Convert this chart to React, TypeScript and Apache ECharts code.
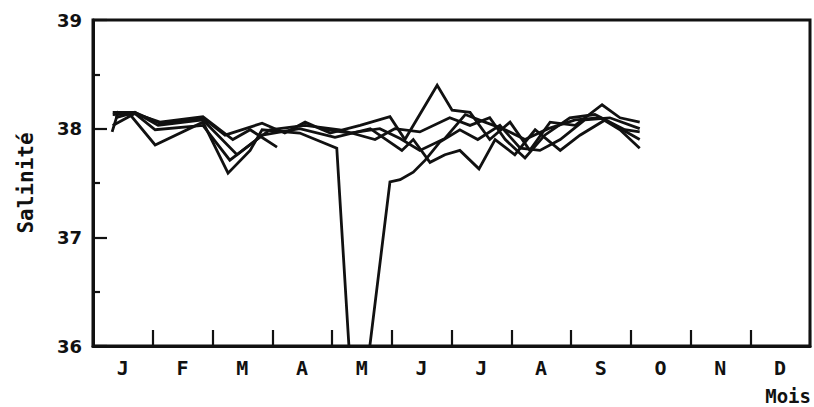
import React, { useEffect, useRef } from "react";
import * as echarts from "echarts";

const months = ["J", "F", "M", "A", "M", "J", "J", "A", "S", "O", "N", "D"];
const yMin = 36;
const yMax = 39;

// [month position (0 = start of January), salinity]
const station1: (number | null)[][] = [
  [0.33, 38.15], [0.7, 38.15], [1.12, 38.05], [1.84, 38.1], [2.21, 37.94], [2.83, 38.05],
  [3.21, 37.96], [3.55, 38.06], [3.97, 37.96], [4.47, 38.03], [4.97, 38.11], [5.22, 37.9],
  [5.76, 38.4], [6.01, 38.17], [6.31, 38.15], [6.64, 37.9], [6.98, 38.06], [7.31, 37.8],
  [7.65, 38.06], [8.07, 38.03], [8.52, 38.22], [8.82, 38.1], [9.15, 38.06],
];
const station2: (number | null)[][] = [
  [0.32, 37.97], [0.42, 38.15], [0.62, 38.13], [1.04, 37.85], [1.84, 38.06], [2.26, 37.59],
  [2.63, 37.8], [2.83, 37.99], [3.46, 37.96], [4.08, 37.82], [4.3, 35.85], [4.6, 35.85],
  [4.97, 37.51], [5.14, 37.53], [5.36, 37.6], [5.56, 37.71], [5.81, 37.88], [6.14, 37.99],
  [6.44, 37.9], [6.81, 38.03], [7.15, 37.82], [7.48, 37.8], [7.82, 37.9], [8.23, 38.08],
  [8.65, 38.1], [9.15, 38.0],
];
const station3: (number | null)[][] = [
  [0.33, 38.13], [0.7, 38.14], [1.04, 37.99], [1.84, 38.03], [2.29, 37.71], [2.83, 37.94],
  [3.46, 38.0], [4.05, 37.92], [4.64, 38.0], [5.17, 37.8], [5.36, 37.9], [5.64, 37.69],
  [5.89, 37.76], [6.14, 37.8], [6.46, 37.63], [6.73, 37.9], [7.06, 37.76], [7.4, 37.99],
  [7.82, 37.8], [8.15, 37.94], [8.57, 38.08], [9.15, 37.9],
];
const station4: (number | null)[][] = [
  [0.37, 38.1], [0.7, 38.15], [1.09, 38.03], [1.84, 38.08], [2.41, 37.76], [2.96, 37.99],
  [3.55, 38.03], [4.13, 37.99], [4.72, 37.9], [5.05, 38.0], [5.47, 37.97], [5.97, 38.1],
  [6.31, 38.03], [6.64, 38.1], [6.9, 37.9], [7.23, 37.73], [7.56, 37.94], [7.98, 38.1],
  [8.4, 38.13], [8.9, 37.99], [9.15, 37.97],
];
const station5: (number | null)[][] = [
  [0.33, 38.03], [0.7, 38.14], [1.12, 38.06], [1.84, 38.11], [2.34, 37.9], [2.63, 37.99],
  [3.08, 37.83], [3.3, null], [3.8, 38.0], [4.3, 37.96], [4.8, 38.0], [5.14, 37.91],
  [5.47, 37.8], [5.89, 37.91], [6.23, 38.13], [6.56, 38.06], [6.9, 37.99], [7.23, 37.9],
  [7.62, 38.0], [8.07, 38.08], [8.49, 38.1], [8.82, 37.99], [9.15, 37.82],
];

const allStations = [station1, station2, station3, station4, station5];

export default function App() {
  const ref = useRef<HTMLDivElement>(null);
  useEffect(() => {
    document.body.style.margin = "0";
    if (!ref.current) return;
    const chart = echarts.init(ref.current, undefined, { renderer: "svg" });
    const black = "#111";
    chart.setOption({
      animation: false,
      backgroundColor: "#fff",
      grid: {
        show: true,
        left: 93,
        right: 4,
        top: 20,
        bottom: 61,
        borderColor: black,
        borderWidth: 3,
        backgroundColor: "transparent",
      },
      xAxis: [
        {
          type: "value",
          min: 0,
          max: 12,
          interval: 1,
          axisLine: { show: true, lineStyle: { color: black, width: 3 } },
          axisTick: { show: true, inside: true, length: 16, lineStyle: { color: black, width: 2.2 } },
          axisLabel: { show: false },
          splitLine: { show: false },
        },
        {
          type: "category",
          data: months,
          position: "bottom",
          boundaryGap: true,
          axisLine: { show: false },
          axisTick: { show: false },
          axisLabel: {
            color: black,
            fontFamily: "DejaVu Sans Mono",
            fontWeight: "bold",
            fontSize: 20,
            margin: 12,
          },
          splitLine: { show: false },
        },
      ],
      yAxis: {
        type: "value",
        min: yMin,
        max: yMax,
        interval: 1,
        axisLine: { show: true, lineStyle: { color: black, width: 3 } },
        axisTick: { show: true, inside: true, length: 14, lineStyle: { color: black, width: 2.2 } },
        minorTick: { show: true, splitNumber: 2, length: 7, lineStyle: { color: black, width: 2.2 } },
        axisLabel: {
          color: black,
          fontFamily: "DejaVu Sans",
          fontWeight: "bold",
          fontSize: 18,
          margin: 11,
        },
        splitLine: { show: false },
      },
      graphic: [
        {
          type: "text",
          x: 26,
          y: 183,
          rotation: Math.PI / 2,
          style: {
            text: "Salinité",
            fill: black,
            font: "bold 21px 'DejaVu Sans Mono'",
            textAlign: "center",
            textVerticalAlign: "middle",
          },
        },
        {
          type: "text",
          x: 811,
          y: 396,
          style: {
            text: "Mois",
            fill: black,
            font: "bold 19px 'DejaVu Sans Mono'",
            textAlign: "right",
            textVerticalAlign: "middle",
          },
        },
      ],
      series: allStations.map((d, i) => ({
        name: "station" + (i + 1),
        type: "line",
        xAxisIndex: 0,
        data: d,
        showSymbol: false,
        symbol: "none",
        connectNulls: false,
        clip: true,
        lineStyle: { color: black, width: 2.8, join: "miter" },
      })),
    });
    return () => chart.dispose();
  }, []);
  return <div ref={ref} style={{ width: 814, height: 407 }} />;
}
